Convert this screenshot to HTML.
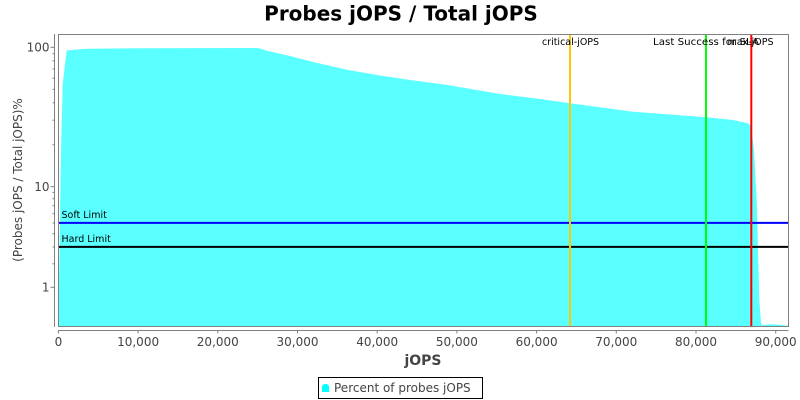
<!DOCTYPE html>
<html>
<head>
<meta charset="utf-8">
<style>
  html,body{margin:0;padding:0;background:#fff;}
  svg{display:block;}
  text{font-family:"DejaVu Sans","Liberation Sans",sans-serif;}
</style>
</head>
<body>
<svg width="800" height="400" viewBox="0 0 800 400" xmlns="http://www.w3.org/2000/svg">
  <rect x="0" y="0" width="800" height="400" fill="#ffffff"/>

  <!-- Title -->
  <text x="401" y="20.5" font-size="20" font-weight="bold" text-anchor="middle" fill="#000">Probes jOPS / Total jOPS</text>

  <!-- Plot background -->
  <rect x="58.5" y="34.5" width="730" height="292" fill="#ffffff"/>

  <!-- Area -->
  <polygon fill="#5affff" points="
    58.5,326.7 59.5,250 61,150 62.7,84 66.7,50.5 77,49.5 87,48.7 150,48.2 258,48
    267,50.7 290,56 313,62 347,69.7 377,75 410,80 446,84.7 500,94 540,99 570,103.3
    633,111.7 706,117.3 733,120 748,123.3 751,126 754,150 756.7,200 759.3,300 761,323
    762,325.3 770,324.3 780,324.8 788,325.8 788,326.7"/>

  <!-- Horizontal limit lines -->
  <line x1="58.5" y1="222.9" x2="788.5" y2="222.9" stroke="#0000ff" stroke-width="2"/>
  <line x1="58.5" y1="246.9" x2="788.5" y2="246.9" stroke="#000000" stroke-width="2"/>
  <text x="61.5" y="217.8" font-size="9.5" fill="#000">Soft Limit</text>
  <text x="61.5" y="242" font-size="9.5" fill="#000">Hard Limit</text>

  <!-- Vertical marker lines -->
  <line x1="570" y1="34.5" x2="570" y2="326.5" stroke="#ffc800" stroke-width="2"/>
  <line x1="706" y1="34.5" x2="706" y2="326.5" stroke="#00ff00" stroke-width="2"/>
  <line x1="751.3" y1="34.5" x2="751.3" y2="326.5" stroke="#ff0000" stroke-width="2"/>
  <text x="570.5" y="45" font-size="9.5" text-anchor="middle" fill="#000">critical-jOPS</text>
  <text x="706" y="45" font-size="9.5" text-anchor="middle" fill="#000" textLength="106" lengthAdjust="spacingAndGlyphs">Last Success for SLA</text>
  <text x="750.5" y="45" font-size="9.5" text-anchor="middle" fill="#000">max-jOPS</text>

  <!-- Plot border -->
  <rect x="58.5" y="34.5" width="730" height="292" fill="none" stroke="#808080" stroke-width="1"/>

  <!-- Y axis -->
  <line x1="54.5" y1="34" x2="54.5" y2="327" stroke="#808080" stroke-width="1"/>
  <g stroke="#808080" stroke-width="1">
    <line x1="50.5" y1="47.3" x2="54.5" y2="47.3"/>
    <line x1="50.5" y1="186.7" x2="54.5" y2="186.7"/>
    <line x1="50.5" y1="287.3" x2="54.5" y2="287.3"/>
    <line x1="52.5" y1="53.7" x2="54.5" y2="53.7"/>
    <line x1="52.5" y1="60.8" x2="54.5" y2="60.8"/>
    <line x1="52.5" y1="68.9" x2="54.5" y2="68.9"/>
    <line x1="52.5" y1="78.2" x2="54.5" y2="78.2"/>
    <line x1="52.5" y1="89.3" x2="54.5" y2="89.3"/>
    <line x1="52.5" y1="102.8" x2="54.5" y2="102.8"/>
    <line x1="52.5" y1="120.2" x2="54.5" y2="120.2"/>
    <line x1="52.5" y1="144.7" x2="54.5" y2="144.7"/>
    <line x1="52.5" y1="192.4" x2="54.5" y2="192.4"/>
    <line x1="52.5" y1="198.7" x2="54.5" y2="198.7"/>
    <line x1="52.5" y1="205.7" x2="54.5" y2="205.7"/>
    <line x1="52.5" y1="213.7" x2="54.5" y2="213.7"/>
    <line x1="52.5" y1="222.9" x2="54.5" y2="222.9"/>
    <line x1="52.5" y1="233.7" x2="54.5" y2="233.7"/>
    <line x1="52.5" y1="246.9" x2="54.5" y2="246.9"/>
    <line x1="52.5" y1="263.8" x2="54.5" y2="263.8"/>
  </g>
  <g font-size="12" fill="#444444" text-anchor="end">
    <text x="49.5" y="51.5">100</text>
    <text x="49.5" y="191">10</text>
    <text x="49.5" y="291.5">1</text>
  </g>
  <text transform="translate(22,180) rotate(-90)" font-size="12" fill="#444444" text-anchor="middle">(Probes jOPS / Total jOPS)%</text>

  <!-- X axis -->
  <line x1="58" y1="330.5" x2="788.5" y2="330.5" stroke="#808080" stroke-width="1"/>
  <g stroke="#808080" stroke-width="1">
    <line x1="58.4" y1="331" x2="58.4" y2="333.5"/>
    <line x1="138.1" y1="331" x2="138.1" y2="333.5"/>
    <line x1="217.8" y1="331" x2="217.8" y2="333.5"/>
    <line x1="297.5" y1="331" x2="297.5" y2="333.5"/>
    <line x1="377.2" y1="331" x2="377.2" y2="333.5"/>
    <line x1="456.9" y1="331" x2="456.9" y2="333.5"/>
    <line x1="536.6" y1="331" x2="536.6" y2="333.5"/>
    <line x1="616.3" y1="331" x2="616.3" y2="333.5"/>
    <line x1="696" y1="331" x2="696" y2="333.5"/>
    <line x1="775.7" y1="331" x2="775.7" y2="333.5"/>
  </g>
  <g font-size="12" fill="#444444" text-anchor="middle">
    <text x="58.4" y="346">0</text>
    <text x="138.1" y="346">10,000</text>
    <text x="217.8" y="346">20,000</text>
    <text x="297.5" y="346">30,000</text>
    <text x="377.2" y="346">40,000</text>
    <text x="456.9" y="346">50,000</text>
    <text x="536.6" y="346">60,000</text>
    <text x="616.3" y="346">70,000</text>
    <text x="696" y="346">80,000</text>
    <text x="775.7" y="346">90,000</text>
  </g>
  <text x="423" y="365" font-size="14" font-weight="bold" fill="#444444" text-anchor="middle">jOPS</text>

  <!-- Legend -->
  <rect x="318.5" y="377.5" width="164" height="21" fill="#ffffff" stroke="#000000" stroke-width="1"/>
  <path d="M322,392 L322,387 Q322,384 325.5,384 Q329,384 329,387 L329,392 Z" fill="#00ffff"/>
  <text x="334" y="392" font-size="12" fill="#444444">Percent of probes jOPS</text>
</svg>
</body>
</html>
